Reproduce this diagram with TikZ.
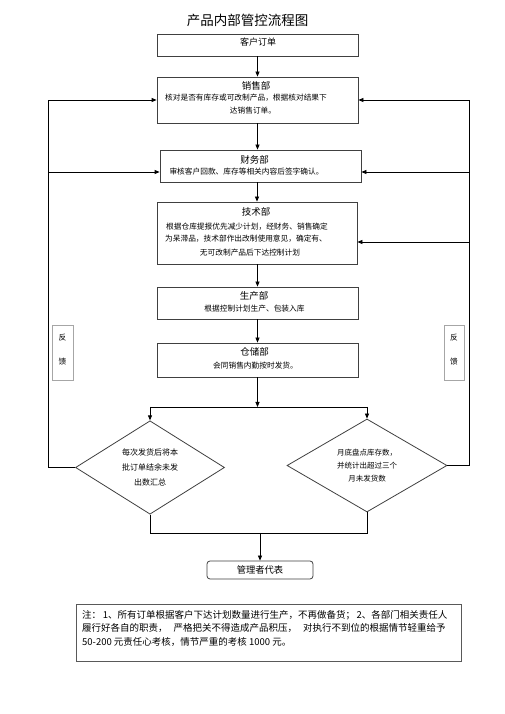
\documentclass[tikz,border=0pt]{standalone}
\usepackage{fontspec}
\setmainfont{Noto Sans CJK SC}
\usetikzlibrary{arrows.meta,shapes.geometric}

\tikzset{
  dept/.style={draw=black!75, line width=0.8pt, minimum width=201pt, inner sep=0pt},
  head/.style={font=\fontsize{9.5pt}{11pt}\selectfont, inner sep=0pt},
  body/.style={font=\fontsize{7.7pt}{9pt}\selectfont, inner sep=0pt},
  check/.style={draw=black!75, line width=0.8pt, diamond, inner sep=0pt, align=center},
  tag/.style={draw=black!35, line width=0.5pt, minimum width=21pt, minimum height=55pt, inner sep=0pt},
  wire/.style={color=black, line width=0.8pt},
  link/.style={wire, -{Triangle[length=5pt,width=4pt]}},
}

\begin{document}
\begin{tikzpicture}[scale=1.000000,x=1pt,y=1pt]
\useasboundingbox[fill=white] (0.000000, 0.000000) rectangle (505.000000, 714.000000);
% Title
\node[font=\fontsize{13.5pt}{15pt}\selectfont, inner sep=0pt] (title) at (247.5, 694.0) {产品内部管控流程图};
% Drawing department boxes
% Box 1: order
\node[dept, minimum height=22pt] (order) at (257.5, 669.0) {};
\node[head, font=\fontsize{9pt}{11pt}\selectfont] (ordertext) at (258.0, 672.0) {客户订单};
% Box 2: sales
\node[dept, minimum height=46pt] (sales) at (257.5, 614.0) {};
\node[head] (saleshead) at (256.0, 628.0) {销售部};
\node[body] (salesa) at (246.0, 616.0) {核对是否有库存或可改制产品，根据核对结果下};
\node[body] (salesb) at (253.0, 603.0) {达销售订单。};
% Box 3: finance
\node[dept, minimum height=32pt] (finance) at (260.5, 548.0) {};
\node[head] (financehead) at (254.5, 554.0) {财务部};
\node[body] (financea) at (246.5, 542.0) {审核客户回款、库存等相关内容后签字确认。};
% Box 4: tech
\node[dept, minimum width=200pt, minimum height=62pt] (tech) at (257.0, 481.0) {};
\node[head] (techhead) at (256.0, 502.0) {技术部};
\node[body] (techa) at (247.0, 487.0) {根据仓库提报优先减少计划，经财务、销售确定};
\node[body] (techb) at (246.0, 475.0) {为呆滞品，技术部作出改制使用意见，确定有、};
\node[body] (techc) at (250.0, 461.0) {无可改制产品后下达控制计划};
% Box 5: production
\node[dept, minimum height=32pt] (prod) at (257.5, 411.0) {};
\node[head] (prodhead) at (254.0, 418.0) {生产部};
\node[body] (proda) at (254.5, 405.0) {根据控制计划生产、包装入库};
% Box 6: store
\node[dept, minimum height=34pt] (store) at (257.5, 354.0) {};
\node[head] (storehead) at (254.5, 362.0) {仓储部};
\node[body] (storea) at (255.5, 348.0) {会同销售内勤按时发货。};
% Drawing checks
\node[check, minimum width=149pt, minimum height=89pt, font=\fontsize{8pt}{15pt}\selectfont] (leftcheck) at (150.0, 246.5)
  {每次发货后将本\\批订单结余未发\\出数汇总};
\node[check, minimum width=160pt, minimum height=85pt, font=\fontsize{7.5pt}{13pt}\selectfont] (rightcheck) at (367.0, 248.5)
  {月底盘点库存数，\\并统计出超过三个\\月未发货数};
% Manager box
\node[draw=black!75, line width=0.8pt, rounded corners=3pt, minimum width=106pt, minimum height=18pt,
  font=\fontsize{9.3pt}{11pt}\selectfont, inner sep=0pt] (manager) at (260.0, 144.0) {管理者代表};
% Feedback tags
\node[tag] (lefttag) at (62.5, 361.5) {};
\node[body] (lefttaga) at (62.5, 376.0) {反};
\node[body] (lefttagb) at (62.5, 352.0) {馈};
\node[tag, minimum width=20pt] (righttag) at (454.0, 361.5) {};
\node[body] (righttaga) at (454.0, 376.0) {反};
\node[body] (righttagb) at (454.0, 352.0) {馈};
% Note box
\node[draw=black!65, line width=0.9pt, minimum width=385pt, minimum height=57pt, inner sep=0pt] (note) at (268.5, 81.5) {};
\node[anchor=west, inner sep=0pt, font=\fontsize{9.5pt}{13.5pt}\selectfont, align=left] (notetext) at (82.0, 86.0)
  {注：\,1、所有订单根据客户下达计划数量进行生产，不再做备货；\,2、各部门相关责任人\\
   履行好各自的职责，\hspace{6pt}严格把关不得造成产品积压，\hspace{6pt}对执行不到位的根据情节轻重给予\\
   50-200 元责任心考核，情节严重的考核 1000 元。};
% Done with boxes; drawing arrows
\draw[link] (order.south) -- (sales.north);
\draw[link] (sales.south) -- (sales.south |- finance.north);
\draw[link] (finance.south -| tech.north) -- (tech.north);
\draw[link] (tech.south -| prod.north) -- (prod.north);
\draw[link] (prod.south) -- (store.north);
% Split to the two checks
\coordinate (split) at (257.5, 307.0);
\coordinate (splitl) at (150.0, 307.0);
\coordinate (splitr) at (367.0, 307.0);
\draw[link] (store.south) -- (split);
\draw[wire] (splitl) -- (splitr);
\draw[link] (splitl) -- (leftcheck.north);
\draw[link] (splitr) -- (rightcheck.north);
% Left feedback line
\coordinate (backl) at (48.0, 246.5);
\coordinate (backla) at (48.0, 614.0);
\coordinate (backlb) at (48.0, 542.0);
\draw[wire] (leftcheck.west) -- (backl) -- (backla);
\draw[link] (backla) -- (sales.west);
\draw[link] (backlb) -- (backlb -| finance.west);
% Right feedback line
\coordinate (backr) at (469.0, 248.5);
\coordinate (backra) at (469.0, 614.0);
\coordinate (backrb) at (469.0, 542.0);
\coordinate (backrc) at (469.0, 472.0);
\draw[wire] (rightcheck.east) -- (backr) -- (backra);
\draw[link] (backra) -- (sales.east);
\draw[link] (backrb) -- (backrb -| finance.east);
\draw[link] (backrc) -- (backrc -| tech.east);
% Join to manager
\coordinate (joinl) at (150.0, 181.0);
\coordinate (joinr) at (367.0, 181.0);
\coordinate (join) at (260.0, 181.0);
\draw[wire] (leftcheck.south) -- (joinl) -- (joinr) -- (rightcheck.south);
\draw[link] (join) -- (manager.north);
% Done with arrows
\end{tikzpicture}
\end{document}
